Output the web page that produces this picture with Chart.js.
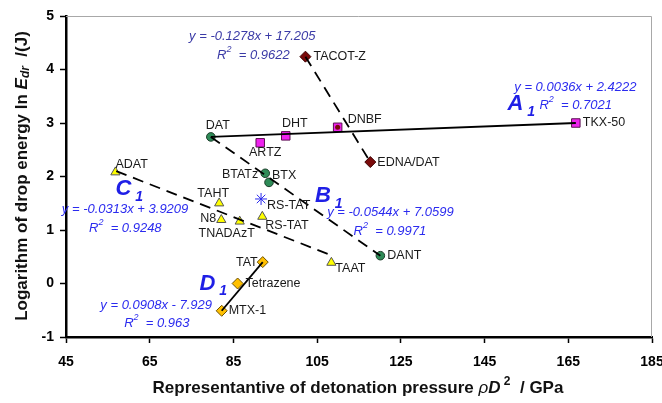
<!DOCTYPE html>
<html><head><meta charset="utf-8">
<script src="https://cdn.jsdelivr.net/npm/chart.js@4.4.1/dist/chart.umd.min.js"></script>
<style>html,body{margin:0;padding:0;background:#fff;}canvas{display:block;}</style>
</head><body>
<canvas id="c" width="662" height="403"></canvas>
<script>
// ---- tick labels ----
const xTicks = [45, 65, 85, 105, 125, 145, 165, 185];
const yTicks = [-1, 0, 1, 2, 3, 4, 5];

// ---- group A (magenta squares) ----
const aNames = ['ARTZ', 'DHT', 'DNBF', 'TKX-50'];
const aX = [91.4, 97.5, 109.9, 166.8];
const aY = [2.63, 2.76, 2.92, 3.00];

// ---- TACOT group (dark red diamonds) ----
const tNames = ['TACOT-Z', 'EDNA/DAT'];
const tX = [102.2, 117.7];
const tY = [4.24, 2.27];
const tDotX = [109.9];
const tDotY = [2.92];

// ---- group B (green circles) ----
const bNames = ['DAT', 'BTATz', 'BTX', 'DANT'];
const bX = [79.6, 92.6, 93.5, 120.1];
const bY = [2.74, 2.06, 1.89, 0.52];

// ---- group C (yellow triangles) ----
const cNames = ['ADAT', 'TAHT', 'N8', 'TNADAzT', 'RS-TAT', 'TAAT'];
const cX = [56.8, 81.6, 82.1, 86.5, 91.9, 108.4];
const cY = [2.08, 1.50, 1.19, 1.16, 1.25, 0.39];

// ---- asterisk point ----
const sNames = ['RS-TAT'];
const sX = [91.6];
const sY = [1.58];

// ---- group D (orange diamonds) ----
const dNames = ['MTX-1', 'Tetrazene', 'TAT'];
const dX = [82.2, 86.0, 92.0];
const dY = [-0.51, 0.0, 0.40];

// ---- trend line end points ----
const lineAX = [79.6, 166.8], lineAY = [2.74, 3.00];
const lineTX = [102.2, 117.7], lineTY = [4.24, 2.27];
const lineBX = [79.6, 120.1], lineBY = [2.74, 0.52];
const lineCX = [57.0, 108.3], lineCY = [2.10, 0.53];
const lineDX = [82.2, 92.0], lineDY = [-0.51, 0.40];

// ---- equation texts ----
const eqTexts = ['y = -0.1278x + 17.205', 'y = 0.0036x + 2.4222', 'y = -0.0544x + 7.0599', 'y = -0.0313x + 3.9209', 'y = 0.0908x - 7.929'];
const r2Texts = ['0.9622', '0.7021', '0.9971', '0.9248', '0.963'];
const eqX = [74.4, 152.1, 107.4, 44.0, 53.2];
const eqY = [4.61, 3.67, 1.326, 1.376, -0.40];
const r2X = [81.1, 158.1, 113.7, 50.5, 58.9];
const r2Y = [4.26, 3.32, 0.971, 1.035, -0.74];
const groupLetters = ['A', 'B', 'C', 'D'];
const letterX = [150.5, 104.5, 56.8, 76.9];
const letterY = [3.36, 1.64, 1.77, 0.0];

const FAM = 'Arial, "Liberation Sans", sans-serif';

function pts(xs, ys) { return xs.map((x, i) => ({ x: x, y: ys[i] })); }

// label offsets (style): [dx, dy, align]
const labelStyle = {
  'ARTZ': [5, 10, 'center'], 'DHT': [9, -12, 'center'], 'DNBF': [10, -8, 'left'], 'TKX-50': [7, 0, 'left'],
  'TACOT-Z': [8, 0, 'left'], 'EDNA/DAT': [7, 0, 'left'],
  'DAT': [7, -11, 'center'], 'BTATz': [-7, 1, 'right'], 'BTX': [3, -7, 'left'], 'DANT': [7, 0, 'left'],
  'ADAT': [0, -8, 'left'], 'TAHT': [-6, -10, 'center'], 'N8': [-5, -1, 'right'], 'TNADAzT': [-13, 12, 'center'],
  'RS-TAT': [3, 9, 'left'], 'TAAT': [4, 6, 'left'],
  'RS-TAT*': [6, 7, 'left'],
  'MTX-1': [7, 0, 'left'], 'Tetrazene': [8, 0, 'left'], 'TAT': [-5, 0, 'right']
};

function drawRich(ctx, x, y, segs, align) {
  let total = 0;
  segs.forEach(s => { ctx.font = s.font; total += ctx.measureText(s.t).width; });
  let cx = x;
  if (align === 'center') cx = x - total / 2;
  ctx.textAlign = 'left';
  segs.forEach(s => {
    ctx.font = s.font;
    ctx.fillText(s.t, cx, y + (s.dy || 0));
    cx += ctx.measureText(s.t).width;
  });
}

const annot = {
  id: 'annot',
  beforeDatasetsDraw(chart) {
    const { ctx, chartArea: ca } = chart;
    ctx.save();
    ctx.strokeStyle = '#a8a8a8';
    ctx.lineWidth = 1;
    ctx.beginPath();
    ctx.moveTo(ca.left, ca.top + 0.5);
    ctx.lineTo(ca.right - 0.5, ca.top + 0.5);
    ctx.lineTo(ca.right - 0.5, ca.bottom);
    ctx.stroke();
    ctx.restore();
  },
  afterDraw(chart) {
    const { ctx, scales } = chart;
    const xs = scales.x, ys = scales.y;
    const px = v => xs.getPixelForValue(v), py = v => ys.getPixelForValue(v);
    ctx.save();
    ctx.textBaseline = 'middle';
    // point labels
    ctx.fillStyle = '#1a1a1a';
    ctx.font = '12.5px ' + FAM;
    const groups = [[aNames, aX, aY], [tNames, tX, tY], [bNames, bX, bY], [cNames, cX, cY], [dNames, dX, dY]];
    groups.forEach(([n, xv, yv]) => {
      n.forEach((name, i) => {
        const st = labelStyle[name];
        ctx.textAlign = st[2];
        ctx.fillText(name, px(xv[i]) + st[0], py(yv[i]) + st[1]);
      });
    });
    sNames.forEach((name, i) => {
      const st = labelStyle[name + '*'];
      ctx.textAlign = st[2];
      ctx.fillText(name, px(sX[i]) + st[0], py(sY[i]) + st[1]);
    });
    // equations
    const eqFont = 'italic 13px ' + FAM;
    const supFont = 'italic 9px ' + FAM;
    eqTexts.forEach((t, i) => {
      ctx.fillStyle = i === 0 ? '#3a3aa6' : '#2b2bef';
      drawRich(ctx, px(eqX[i]), py(eqY[i]), [{ t: t, font: eqFont }], 'left');
      drawRich(ctx, px(r2X[i]), py(r2Y[i]), [
        { t: 'R', font: eqFont }, { t: '2', font: supFont, dy: -6 }, { t: '  = ' + r2Texts[i], font: eqFont }
      ], 'left');
    });
    // group letters
    ctx.fillStyle = '#1f1fe6';
    groupLetters.forEach((L, i) => {
      const x0 = px(letterX[i]), y0 = py(letterY[i]);
      drawRich(ctx, x0, y0, [
        { t: L, font: 'italic bold 22px ' + FAM }, { t: ' 1', font: 'italic bold 14px ' + FAM, dy: 8 }
      ], 'left');
    });
    // axis titles
    ctx.fillStyle = '#111';
    const bf = 'bold 17px ' + FAM;
    const bif = 'italic bold 17px ' + FAM;
    const sf = 'bold 12px ' + FAM;
    const sif = 'italic bold 12px ' + FAM;
    drawRich(ctx, 358, 388, [
      { t: 'Representantive of detonation pressure ', font: bf },
      { t: 'ρ', font: 'italic 17px ' + FAM },
      { t: 'D', font: bif },
      { t: ' 2', font: sf, dy: -6 },
      { t: '  / GPa', font: bf }
    ], 'center');
    ctx.translate(22, 176);
    ctx.rotate(-Math.PI / 2);
    drawRich(ctx, 0, 0, [
      { t: 'Logarithm of drop energy ln ', font: bf },
      { t: 'E', font: bif },
      { t: 'dr', font: sif, dy: 4 },
      { t: '  /(J)', font: bf }
    ], 'center');
    ctx.restore();
  }
};

const lineDs = (xs, ys, dash) => ({
  data: pts(xs, ys), showLine: true, borderColor: '#000', borderWidth: 1.8,
  borderDash: dash ? [11, 7] : [], pointRadius: 0, order: -1, fill: false
});

new Chart(document.getElementById('c'), {
  type: 'scatter',
  data: {
    datasets: [
      lineDs(lineAX, lineAY, false),
      lineDs(lineTX, lineTY, true),
      lineDs(lineBX, lineBY, true),
      lineDs(lineCX, lineCY, true),
      lineDs(lineDX, lineDY, false),
      { data: pts(aX, aY), pointStyle: 'rect', pointRadius: 6, backgroundColor: '#ee22ee', borderColor: '#5a1050', borderWidth: 1, order: 1 },
      { data: pts(tX, tY), pointStyle: 'rectRot', pointRadius: 5.5, backgroundColor: '#7a0a0a', borderColor: '#3a0000', borderWidth: 1, order: 1 },
      { data: pts(tDotX, tDotY), pointStyle: 'circle', pointRadius: 2.5, backgroundColor: '#7a0a0a', borderColor: '#7a0a0a', borderWidth: 0, order: 0 },
      { data: pts(bX, bY), pointStyle: 'circle', pointRadius: 4.3, backgroundColor: '#2e8b57', borderColor: '#1d3d2a', borderWidth: 1, order: 1 },
      { data: pts(cX, cY), pointStyle: 'triangle', pointRadius: 5.3, backgroundColor: '#ffff00', borderColor: '#555', borderWidth: 1, order: 1 },
      { data: pts(sX, sY), pointStyle: 'star', pointRadius: 6, backgroundColor: 'transparent', borderColor: '#2b2bef', borderWidth: 1, order: 1 },
      { data: pts(dX, dY), pointStyle: 'rectRot', pointRadius: 5.5, backgroundColor: '#ffc000', borderColor: '#6b5000', borderWidth: 1, order: 1 }
    ]
  },
  options: {
    responsive: false, animation: false, devicePixelRatio: 1,
    layout: { padding: { left: 0, right: 10, top: 16, bottom: 0 } },
    plugins: { legend: { display: false }, tooltip: { enabled: false }, title: { display: false } },
    scales: {
      x: {
        type: 'linear', min: 45, max: 185,
        afterBuildTicks: s => { s.ticks = xTicks.map(v => ({ value: v })); },
        afterFit: s => { s.height = 66; s.paddingLeft = 0; s.paddingRight = 0; },
        grid: { display: true, drawOnChartArea: false, drawTicks: true, tickLength: 6, color: '#000', tickColor: '#000', tickWidth: 1.5 },
        border: { display: true, color: '#000', width: 2.5 },
        ticks: { font: { family: FAM, size: 14, weight: 'bold' }, color: '#000', padding: 11, maxRotation: 0, autoSkip: false }
      },
      y: {
        type: 'linear', min: -1, max: 5,
        afterBuildTicks: s => { s.ticks = yTicks.map(v => ({ value: v })); },
        afterFit: s => { s.width = 66; s.paddingTop = 0; s.paddingBottom = 0; },
        grid: { display: true, drawOnChartArea: false, drawTicks: true, tickLength: 6, color: '#000', tickColor: '#000', tickWidth: 1.5 },
        border: { display: true, color: '#000', width: 2.5 },
        ticks: { font: { family: FAM, size: 14, weight: 'bold' }, color: '#000', padding: 6, autoSkip: false }
      }
    }
  },
  plugins: [annot]
});
</script>
</body></html>
